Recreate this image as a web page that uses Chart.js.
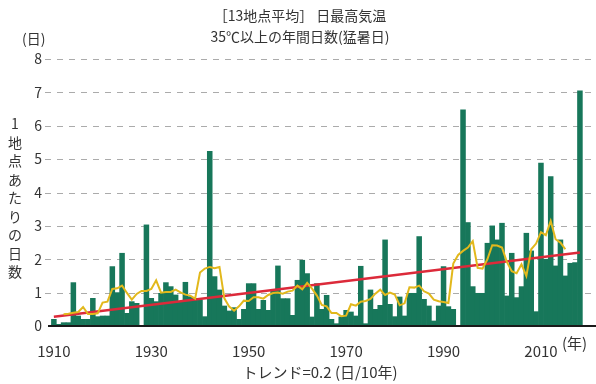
<!DOCTYPE html>
<html lang="ja">
<head>
<meta charset="utf-8">
<title>猛暑日の年間日数</title>
<script src="https://cdn.jsdelivr.net/npm/chart.js@4.4.1/dist/chart.umd.min.js"></script>
<style>
  html, body { margin: 0; padding: 0; background: #fff; }
  #wrap { width: 596px; height: 384px; }
</style>
</head>
<body>
<div id="wrap"><canvas id="heatChart" width="596" height="384"></canvas></div>
<script>
// 13地点平均 日最高気温35℃以上の年間日数（猛暑日）
const firstYear = 1910;

// 1910 - 2018
const days = [
  0.2, 0.05, 0.1, 0.1, 1.3, 0.3, 0.2, 0.2, 0.83, 0.28,
  0.3, 0.3, 1.78, 1.0, 2.18, 0.38, 0.73, 0.68, 0.0, 3.03,
  0.83, 0.73, 0.98, 1.3, 1.18, 0.93, 0.73, 1.31, 0.88, 0.83,
  0.78, 0.28, 5.23, 1.48, 1.08, 0.6, 0.45, 0.55, 0.2, 0.5,
  1.27, 1.27, 0.5, 0.77, 0.47, 1.1, 1.8, 0.82, 0.82, 0.32,
  1.37, 1.97, 1.57, 0.27, 1.27, 0.5, 0.92, 0.2, 0.07, 0.27,
  0.47, 0.42, 0.3, 1.79, 0.07, 1.08, 0.5, 0.62, 2.58, 0.65,
  0.28, 0.87, 0.3, 0.98, 0.98, 2.68, 0.8, 0.6, 0.15, 0.6,
  1.78, 0.58, 0.5, 0.0, 6.48, 3.1, 1.18, 0.98, 0.98, 2.48,
  3.0, 2.58, 3.08, 0.9, 2.18, 0.85, 1.18, 2.78, 2.25, 0.43,
  4.88, 2.0, 4.48, 1.8, 2.58, 1.5, 1.88, 1.9, 7.05
];

// 5年移動平均（黄線）
const runMean = [
  null, null, 0.35, 0.37, 0.40, 0.42, 0.57, 0.36, 0.36, 0.38,
  0.70, 0.73, 1.11, 1.13, 1.21, 0.99, 0.79, 0.96, 1.05, 1.05,
  1.11, 1.37, 1.00, 1.02, 1.02, 1.09, 1.01, 0.94, 0.91, 0.82,
  1.60, 1.72, 1.77, 1.73, 1.77, 0.83, 0.58, 0.46, 0.59, 0.76,
  0.75, 0.86, 0.86, 0.82, 0.93, 0.99, 1.00, 0.97, 1.03, 1.06,
  1.21, 1.10, 1.29, 1.12, 0.91, 0.63, 0.59, 0.39, 0.39, 0.29,
  0.31, 0.65, 0.61, 0.73, 0.75, 0.81, 0.97, 1.09, 0.93, 1.00,
  0.94, 0.62, 0.68, 1.16, 1.15, 1.21, 1.04, 0.97, 0.79, 0.74,
  0.72, 0.69, 1.87, 2.13, 2.25, 2.35, 2.54, 1.74, 1.72, 2.00,
  2.42, 2.41, 2.35, 1.92, 1.64, 1.58, 1.85, 1.50, 2.30, 2.47,
  2.81, 2.72, 3.15, 2.6, 2.5, 2.3, null, null, null
];

// 長期変化傾向（赤線）の始点・終点
const trendStart = 0.28;
const trendEnd = 2.2;

const tickYears = [1910, 1930, 1950, 1970, 1990, 2010];
const yTicks = [0, 1, 2, 3, 4, 5, 6, 7, 8];

const years = days.map((_, i) => firstYear + i);
const trendLine = [
  { x: years[0], y: trendStart },
  { x: years[years.length - 1], y: trendEnd }
];

const plotFont = '"Noto Sans CJK JP", "Noto Sans", sans-serif';
const textColor = '#333';

// dashed horizontal grid, drawn under the bars
const dashedGrid = {
  id: 'dashedGrid',
  beforeDatasetsDraw(chart) {
    const { ctx, chartArea, scales: { y } } = chart;
    ctx.save();
    ctx.strokeStyle = '#ababab';
    ctx.lineWidth = 1;
    ctx.setLineDash([6, 6]);
    y.ticks.forEach(t => {
      if (t.value === 0) return;
      const py = Math.round(y.getPixelForValue(t.value)) + 0.5;
      ctx.beginPath();
      ctx.moveTo(chartArea.left - 4, py);
      ctx.lineTo(chartArea.right, py);
      ctx.stroke();
    });
    ctx.restore();
  }
};

// titles, axis units and the vertical y caption
const captions = {
  id: 'captions',
  afterDraw(chart) {
    const ctx = chart.ctx;
    const xs = chart.scales.x;
    ctx.save();
    ctx.fillStyle = textColor;
    ctx.textBaseline = 'middle';
    ctx.font = '14px ' + plotFont;

    ctx.textAlign = 'center';
    ctx.fillText('［13地点平均］ 日最高気温', 300, 16);
    ctx.fillText('35℃以上の年間日数(猛暑日)', 300, 37);

    ctx.textAlign = 'left';
    ctx.fillText('(日)', 22, 39);

    // 縦書きの軸タイトル
    ctx.textAlign = 'center';
    const yTitle = '1地点あたりの日数';
    Array.from(yTitle).forEach((ch, i) => {
      ctx.fillText(ch, 15, 124 + i * 18.5);
    });

    ctx.font = '15px ' + plotFont;
    ctx.fillText('トレンド=0.2 (日/10年)', 320, 372);

    ctx.textAlign = 'left';
    ctx.fillText('(年)', xs.getPixelForValue(2010) + 21, 343);
    ctx.restore();
  }
};

new Chart(document.getElementById('heatChart'), {
  type: 'bar',
  data: {
    labels: years,
    datasets: [
      {
        type: 'line',
        label: '5年移動平均',
        data: runMean,
        borderColor: '#e2b81c',
        borderWidth: 2,
        pointRadius: 0,
        tension: 0,
        order: 0
      },
      {
        type: 'line',
        label: 'トレンド',
        data: trendLine,
        borderColor: '#dc2a3a',
        borderWidth: 2.5,
        pointRadius: 0,
        order: 1
      },
      {
        type: 'bar',
        label: '猛暑日',
        data: days,
        backgroundColor: '#17775a',
        borderWidth: 0,
        barPercentage: 1,
        categoryPercentage: 1,
        order: 2
      }
    ]
  },
  options: {
    responsive: false,
    animation: false,
    layout: { padding: { top: 59, left: 0, right: 0, bottom: 0 } },
    plugins: {
      legend: { display: false },
      tooltip: { enabled: false },
      title: { display: false }
    },
    scales: {
      x: {
        type: 'linear',
        min: 1909,
        max: 2021.3,
        offset: false,
        grid: { display: false, offset: false },
        border: { color: '#1a1a1a', width: 2, z: 1 },
        afterBuildTicks: s => { s.ticks = tickYears.map(v => ({ value: v })); },
        afterFit: s => { s.height = 58; },
        ticks: {
          autoSkip: false,
          maxRotation: 0,
          padding: 8,
          color: textColor,
          font: { family: plotFont, size: 15 },
          callback: v => String(v)
        }
      },
      y: {
        min: 0,
        max: 8,
        grid: { display: false, drawTicks: false },
        border: { display: false },
        afterBuildTicks: s => { s.ticks = yTicks.map(v => ({ value: v })); },
        afterFit: s => { s.width = 49; },
        ticks: {
          padding: 7,
          color: textColor,
          font: { family: plotFont, size: 14 }
        }
      }
    }
  },
  plugins: [dashedGrid, captions]
});
</script>
</body>
</html>
